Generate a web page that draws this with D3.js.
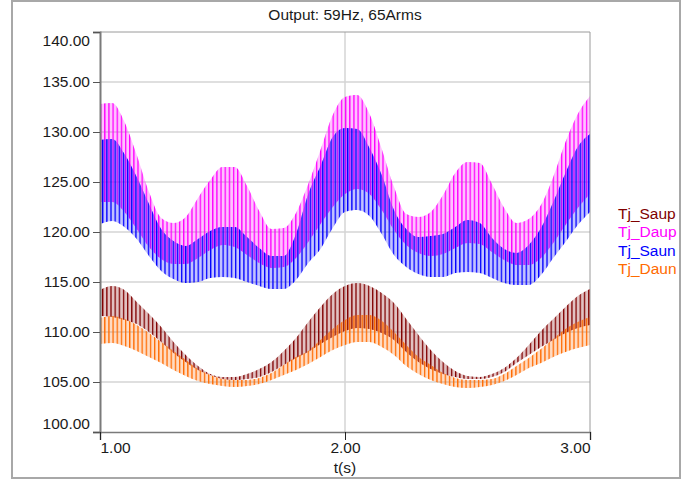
<!DOCTYPE html>
<html>
<head>
<meta charset="utf-8">
<script src="https://cdn.jsdelivr.net/npm/d3@7"></script>
<style>
  body { margin: 0; background: #fff; }
  text { font-family: 'Liberation Sans', Arial, sans-serif; fill: #1a1a1a; }
</style>
</head>
<body>
<div id="chart"></div>
<script>
let times = [1.00, 1.05, 1.10, 1.15, 1.20, 1.25, 1.30, 1.35, 1.40, 1.45,
  1.50, 1.55, 1.60, 1.65, 1.70, 1.75, 1.80, 1.85, 1.90, 1.95,
  2.00, 2.05, 2.10, 2.15, 2.20, 2.25, 2.30, 2.35, 2.40, 2.45,
  2.50, 2.55, 2.60, 2.65, 2.70, 2.75, 2.80, 2.85, 2.90, 2.95, 3.00]

// upper (peak) and lower (trough) envelope of each junction temperature
let saupHi = [114.2, 114.6, 114.2, 113.0, 111.8, 110.5, 109.0, 107.7, 106.6, 105.8,
  105.5, 105.5, 105.8, 106.3, 107.0, 108.1, 109.4, 111.0, 112.5, 113.8,
  114.6, 114.9, 114.6, 113.9, 112.9, 111.3, 109.7, 108.2, 107.0, 106.1,
  105.6, 105.5, 105.8, 106.4, 107.4, 108.7, 110.1, 111.3, 112.5, 113.6, 114.3]
let saupLo = [111.6, 111.5, 111.2, 110.8, 110.0, 109.0, 107.9, 107.0, 106.2, 105.7,
  105.3, 105.2, 105.3, 105.5, 106.0, 106.7, 107.4, 108.0, 108.8, 109.5,
  110.1, 110.4, 110.3, 109.9, 109.2, 108.0, 107.0, 106.3, 105.8, 105.5,
  105.3, 105.3, 105.5, 106.0, 106.9, 107.7, 108.5, 109.2, 109.9, 110.4, 110.7]

let daupHi = [132.8, 132.9, 131.0, 127.7, 124.0, 121.4, 120.9, 121.5, 123.4, 125.2,
  126.5, 126.5, 124.6, 122.1, 120.3, 120.4, 121.9, 124.8, 128.2, 131.7,
  133.5, 133.7, 131.8, 128.3, 124.5, 121.8, 121.5, 122.0, 123.7, 125.9,
  127.0, 126.9, 124.8, 122.4, 120.9, 121.3, 122.7, 125.5, 129.0, 131.8, 133.6]
let daupLo = [123.0, 123.0, 122.0, 120.3, 118.5, 117.3, 116.8, 116.8, 117.4, 118.2,
  118.7, 118.5, 117.7, 116.9, 116.4, 116.5, 117.4, 119.0, 120.8, 122.5,
  123.8, 124.3, 123.8, 122.2, 120.2, 118.7, 117.9, 117.6, 117.8, 118.4,
  118.9, 118.8, 118.0, 117.2, 116.7, 116.7, 117.4, 118.9, 120.7, 122.4, 123.8]

let saunHi = [129.2, 129.3, 127.8, 125.5, 122.8, 120.3, 119.1, 118.6, 119.3, 120.1,
  120.5, 120.5, 119.5, 118.4, 117.6, 117.6, 119.8, 123.8, 126.6, 129.5,
  130.4, 130.3, 128.4, 125.7, 122.2, 120.3, 119.5, 119.6, 119.8, 120.5,
  121.2, 120.9, 119.4, 118.3, 117.9, 118.7, 120.4, 123.0, 125.9, 128.5, 129.8]
let saunLo = [120.8, 121.1, 120.5, 119.3, 117.6, 116.1, 115.3, 114.9, 115.0, 115.4,
  115.5, 115.4, 115.0, 114.6, 114.3, 114.3, 115.2, 116.9, 118.3, 120.4,
  122.0, 122.2, 121.6, 119.8, 117.7, 116.5, 115.8, 115.5, 115.5, 115.9,
  116.0, 115.9, 115.4, 114.9, 114.7, 114.7, 115.7, 117.4, 119.0, 120.7, 122.0]

let daunHi = [111.4, 111.6, 111.3, 110.7, 109.9, 109.0, 108.1, 107.2, 106.3, 105.7,
  105.3, 105.2, 105.2, 105.4, 105.9, 106.7, 107.5, 108.1, 109.2, 110.3,
  111.2, 111.7, 111.7, 111.1, 110.0, 108.7, 107.5, 106.7, 105.9, 105.4,
  105.2, 105.2, 105.3, 105.8, 106.6, 107.4, 108.3, 109.3, 110.3, 111.0, 111.5]
let daunLo = [108.8, 108.9, 108.6, 108.1, 107.5, 106.9, 106.2, 105.6, 105.1, 104.8,
  104.6, 104.5, 104.6, 104.8, 105.2, 105.7, 106.2, 106.8, 107.5, 108.2,
  108.7, 109.0, 109.0, 108.5, 107.7, 106.6, 105.8, 105.2, 104.8, 104.5,
  104.4, 104.5, 104.7, 105.1, 105.7, 106.4, 106.9, 107.5, 108.0, 108.4, 108.7]

let seriesNames = ['Tj_Saup', 'Tj_Daup', 'Tj_Saun', 'Tj_Daun']
let seriesColors = ['#800000', '#ff00ff', '#0000ff', '#ff6a00']
let yTicks = [100, 105, 110, 115, 120, 125, 130, 135, 140]
let xTicks = [1, 2, 3]
let rippleHz = 59

let margin = { top: 32, left: 100, right: 108, bottom: 48 }
let width = 698 - margin.left - margin.right
let height = 480 - margin.top - margin.bottom

let root = d3
  .select('#chart')
  .append('svg')
  .attr('width', 698)
  .attr('height', 480)

// outer frame
root
  .append('rect')
  .attr('x', 12)
  .attr('y', 1)
  .attr('width', 668)
  .attr('height', 477)
  .attr('fill', 'none')
  .attr('stroke', '#a8a8a8')
  .attr('stroke-width', 2)

let svg = root
  .append('g')
  .attr('transform', 'translate(' + margin.left + ',' + margin.top + ')')

let xPositionScale = d3.scaleLinear().domain([1, 3]).range([0, width])
let yPositionScale = d3.scaleLinear().domain([100, 140]).range([height, 0])

let series = [
  { name: seriesNames[0], hi: saupHi, lo: saupLo },
  { name: seriesNames[1], hi: daupHi, lo: daupLo },
  { name: seriesNames[2], hi: saunHi, lo: saunLo },
  { name: seriesNames[3], hi: daunHi, lo: daunLo }
]

let defs = root.append('defs')
defs
  .append('clipPath')
  .attr('id', 'plot-clip')
  .append('rect')
  .attr('width', width)
  .attr('height', height)

// one switching period in pixels, the ripple strokes repeat at this step
let period = xPositionScale(1 + 1 / rippleHz) - xPositionScale(1)

series.forEach((s, i) => {
  let pat = defs
    .append('pattern')
    .attr('id', 'ripple-' + i)
    .attr('patternUnits', 'userSpaceOnUse')
    .attr('x', i % 2 === 0 ? period / 2 : 0)
    .attr('y', 0)
    .attr('width', period)
    .attr('height', 10)
  pat
    .append('rect')
    .attr('x', 0)
    .attr('y', 0)
    .attr('width', 1.3)
    .attr('height', 10)
    .attr('fill', seriesColors[i])
})

// grid
svg
  .selectAll('.hgrid')
  .data(yTicks.filter(d => d > 100 && d < 140))
  .enter()
  .append('line')
  .attr('class', 'hgrid')
  .attr('x1', 0)
  .attr('x2', width)
  .attr('y1', d => yPositionScale(d))
  .attr('y2', d => yPositionScale(d))
  .attr('stroke', '#d4d4d4')
  .attr('stroke-width', 1.5)

svg
  .selectAll('.vgrid')
  .data(xTicks.filter(d => d > 1 && d < 3))
  .enter()
  .append('line')
  .attr('class', 'vgrid')
  .attr('x1', d => xPositionScale(d))
  .attr('x2', d => xPositionScale(d))
  .attr('y1', 0)
  .attr('y2', height)
  .attr('stroke', '#d4d4d4')
  .attr('stroke-width', 1.5)

// top and right border of the plot
svg
  .append('path')
  .attr('d', 'M0,0H' + width + 'V' + height)
  .attr('fill', 'none')
  .attr('stroke', '#9a9a9a')
  .attr('stroke-width', 1)

let band = d3
  .area()
  .x((d, i) => xPositionScale(times[i]))
  .y0(d => yPositionScale(d[0]))
  .y1(d => yPositionScale(d[1]))
  .curve(d3.curveMonotoneX)

let plot = svg.append('g').attr('clip-path', 'url(#plot-clip)')

series.forEach((s, i) => {
  let pts = s.hi.map((h, j) => [s.lo[j], h])
  plot
    .append('path')
    .attr('d', band(pts))
    .attr('fill', seriesColors[i])
    .attr('fill-opacity', 0.24)
  plot
    .append('path')
    .attr('d', band(pts))
    .attr('fill', 'url(#ripple-' + i + ')')
})

// axes
let yAxis = d3
  .axisLeft(yPositionScale)
  .tickValues(yTicks)
  .tickFormat(d3.format('.2f'))
  .tickSize(7)
  .tickPadding(3)

let yG = svg.append('g').attr('class', 'axis y-axis').call(yAxis)
yG.select('.domain').attr('stroke', '#7a7a7a').attr('stroke-width', 2)
yG.selectAll('.tick line').attr('stroke', '#555')
yG
  .selectAll('.tick text')
  .attr('font-size', 15.5)
  .attr('transform', d => (d === 140 ? 'translate(0,9)' : d === 100 ? 'translate(0,-8)' : null))

let xAxis = d3
  .axisBottom(xPositionScale)
  .tickValues(xTicks)
  .tickFormat(d3.format('.2f'))
  .tickSize(8)
  .tickPadding(2)

let xG = svg
  .append('g')
  .attr('class', 'axis x-axis')
  .attr('transform', 'translate(0,' + height + ')')
  .call(xAxis)
xG.select('.domain').attr('stroke', '#7a7a7a').attr('stroke-width', 1.5)
xG.selectAll('.tick line').attr('stroke', '#222')
xG
  .selectAll('.tick text')
  .attr('font-size', 15.5)
  .attr('text-anchor', d => (d === 1 ? 'start' : d === 3 ? 'end' : 'middle'))

svg
  .append('text')
  .attr('x', width / 2)
  .attr('y', height + 41)
  .attr('text-anchor', 'middle')
  .attr('font-size', 15.5)
  .text('t(s)')

svg
  .append('text')
  .attr('x', width / 2)
  .attr('y', -12)
  .attr('text-anchor', 'middle')
  .attr('font-size', 15.5)
  .text('Output: 59Hz, 65Arms')

// legend
svg
  .selectAll('.legend')
  .data(seriesNames)
  .enter()
  .append('text')
  .attr('class', 'legend')
  .attr('x', width + 28)
  .attr('y', (d, i) => 187 + i * 18.3)
  .attr('font-size', 15.5)
  .style('fill', (d, i) => seriesColors[i])
  .text(d => d)
</script>
</body>
</html>
